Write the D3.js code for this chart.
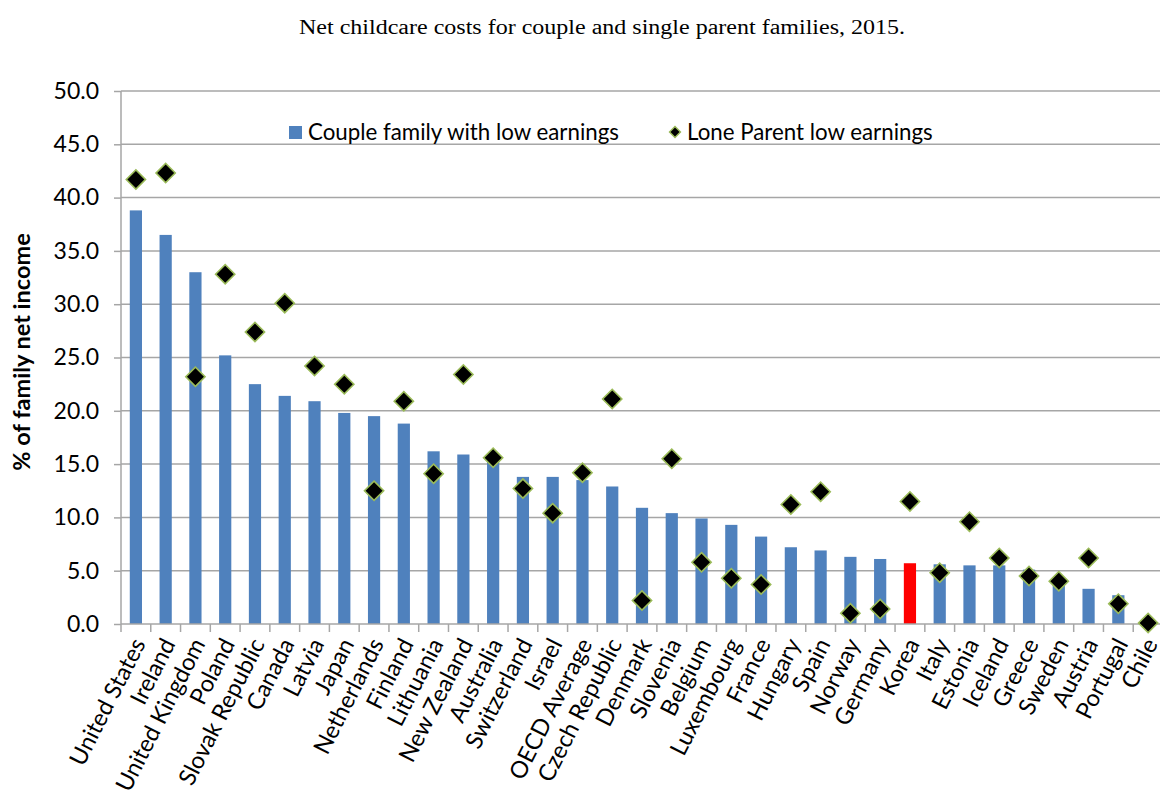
<!DOCTYPE html>
<html>
<head>
<meta charset="utf-8">
<script src="https://cdn.jsdelivr.net/npm/d3@7"></script>
<style>
  html, body { margin: 0; padding: 0; background: #fff; }
  svg { display: block; }
</style>
</head>
<body>
<svg id="chart" width="1165" height="800"></svg>
<script>
// Net childcare costs, % of family net income, 2015
const countries = [
  "United States", "Ireland", "United Kingdom", "Poland", "Slovak Republic",
  "Canada", "Latvia", "Japan", "Netherlands", "Finland", "Lithuania",
  "New Zealand", "Australia", "Switzerland", "Israel", "OECD Average",
  "Czech Republic", "Denmark", "Slovenia", "Belgium", "Luxembourg", "France",
  "Hungary", "Spain", "Norway", "Germany", "Korea", "Italy", "Estonia",
  "Iceland", "Greece", "Sweden", "Austria", "Portugal", "Chile"
];
const coupleLow = [
  38.8, 36.5, 33.0, 25.2, 22.5, 21.4, 20.9, 19.8, 19.5, 18.8, 16.2,
  15.9, 15.3, 13.8, 13.8, 13.5, 12.9, 10.9, 10.4, 9.9, 9.3, 8.2,
  7.2, 6.9, 6.3, 6.1, 5.7, 5.6, 5.5, 5.5, 5.1, 4.0, 3.3, 2.7, 0.0
];
const loneParentLow = [
  41.7, 42.3, 23.2, 32.8, 27.4, 30.1, 24.2, 22.5, 12.5, 20.9, 14.1,
  23.4, 15.6, 12.7, 10.4, 14.2, 21.1, 2.2, 15.5, 5.8, 4.3, 3.7,
  11.2, 12.4, 1.0, 1.4, 11.5, 4.8, 9.6, 6.2, 4.5, 4.0, 6.2, 1.9, 0.1
];
const yTicks = [0, 5, 10, 15, 20, 25, 30, 35, 40, 45, 50];
const highlight = "Korea";

const titleText = "Net childcare costs for couple and single parent families, 2015.";
const yTitle = "% of family net income";
const legendLabels = ["Couple family with low earnings", "Lone Parent low earnings"];

const barBlue = "#4f81bd";
const barRed = "#ff0000";
const gridGrey = "#a6a6a6";
const diamondEdge = "#9bbb59";
const uiFont = "Lato, 'Open Sans', sans-serif";

const svg = d3.select("#chart");
const margin = { left: 121, right: 2, top: 91, bottom: 176 };
const W = 1165, H = 800;
const plotW = W - margin.left - margin.right;
const plotH = H - margin.top - margin.bottom;

const x = d3.scaleBand().domain(countries).range([0, plotW]).padding(0);
const y = d3.scaleLinear().domain([0, 50]).range([plotH, 0]);

const g = svg.append("g").attr("transform", `translate(${margin.left},${margin.top})`);

// horizontal gridlines
g.append("g")
  .selectAll("line")
  .data(yTicks.filter(t => t > 0))
  .join("line")
  .attr("x1", 0).attr("x2", plotW - 3)
  .attr("y1", d => y(d)).attr("y2", d => y(d))
  .attr("stroke", gridGrey).attr("stroke-width", 1.5);

// bars: couple family with low earnings
const barW = x.bandwidth() * 0.41;
g.append("g")
  .selectAll("rect")
  .data(countries.map((c, i) => ({ c, v: coupleLow[i] })))
  .join("rect")
  .attr("x", d => x(d.c) + (x.bandwidth() - barW) / 2)
  .attr("width", barW)
  .attr("y", d => y(d.v))
  .attr("height", d => y(0) - y(d.v))
  .attr("fill", d => d.c === highlight ? barRed : barBlue);

// y axis
const yAxis = d3.axisLeft(y).tickValues(yTicks).tickFormat(d3.format(".1f")).tickSize(7).tickPadding(15);
const ya = g.append("g").call(yAxis);
ya.select(".domain").attr("stroke", gridGrey).attr("stroke-width", 1.5).attr("d", `M0,${plotH}V0`);
ya.selectAll(".tick line").attr("stroke", gridGrey).attr("stroke-width", 1.5);
ya.selectAll(".tick text")
  .attr("font-family", uiFont).attr("font-size", 23).attr("fill", "#000");

// x axis baseline and category boundary ticks
g.append("line")
  .attr("x1", 0).attr("x2", plotW - 3)
  .attr("y1", plotH).attr("y2", plotH)
  .attr("stroke", gridGrey).attr("stroke-width", 1.5);
g.append("g")
  .selectAll("line")
  .data(countries)
  .join("line")
  .attr("x1", d => x(d)).attr("x2", d => x(d))
  .attr("y1", plotH).attr("y2", plotH + 8)
  .attr("stroke", gridGrey).attr("stroke-width", 1.5);

// category labels
g.append("g")
  .selectAll("text")
  .data(countries)
  .join("text")
  .attr("transform", d => `translate(${x(d) + x.bandwidth() / 2 + 3},${plotH + 16}) rotate(-63)`)
  .attr("text-anchor", "end")
  .attr("dy", "0.35em")
  .attr("font-family", uiFont).attr("font-size", 23.5).attr("fill", "#000")
  .text(d => d);

// diamonds: lone parent low earnings
const diamond = d3.symbol().type(d3.symbolSquare).size(185);
g.append("g")
  .selectAll("path")
  .data(countries.map((c, i) => ({ c, v: loneParentLow[i] })))
  .join("path")
  .attr("d", diamond)
  .attr("transform", d => `translate(${x(d.c) + x.bandwidth() / 2},${y(d.v)}) rotate(45)`)
  .attr("fill", "#000")
  .attr("stroke", diamondEdge).attr("stroke-width", 1.6);

// title
svg.append("text")
  .attr("x", 602).attr("y", 34)
  .attr("text-anchor", "middle")
  .attr("font-family", "'Liberation Serif', 'Times New Roman', serif")
  .attr("font-size", 20).attr("fill", "#000")
  .attr("textLength", 606).attr("lengthAdjust", "spacingAndGlyphs")
  .text(titleText);

// y axis title
svg.append("text")
  .attr("transform", `translate(30,${352}) rotate(-90)`)
  .attr("text-anchor", "middle")
  .attr("font-family", uiFont).attr("font-size", 23.5).attr("font-weight", "bold").attr("fill", "#000")
  .text(yTitle);

// legend
const lg = svg.append("g").attr("font-family", uiFont).attr("font-size", 22.3).attr("fill", "#000");
lg.append("rect").attr("x", 289).attr("y", 126).attr("width", 13).attr("height", 13).attr("fill", barBlue);
lg.append("text").attr("x", 308).attr("y", 140).text(legendLabels[0]);
lg.append("path")
  .attr("d", d3.symbol().type(d3.symbolSquare).size(60))
  .attr("transform", "translate(675,132) rotate(45)")
  .attr("fill", "#000").attr("stroke", diamondEdge).attr("stroke-width", 1.4);
lg.append("text").attr("x", 687).attr("y", 140).text(legendLabels[1]);
</script>
</body>
</html>
